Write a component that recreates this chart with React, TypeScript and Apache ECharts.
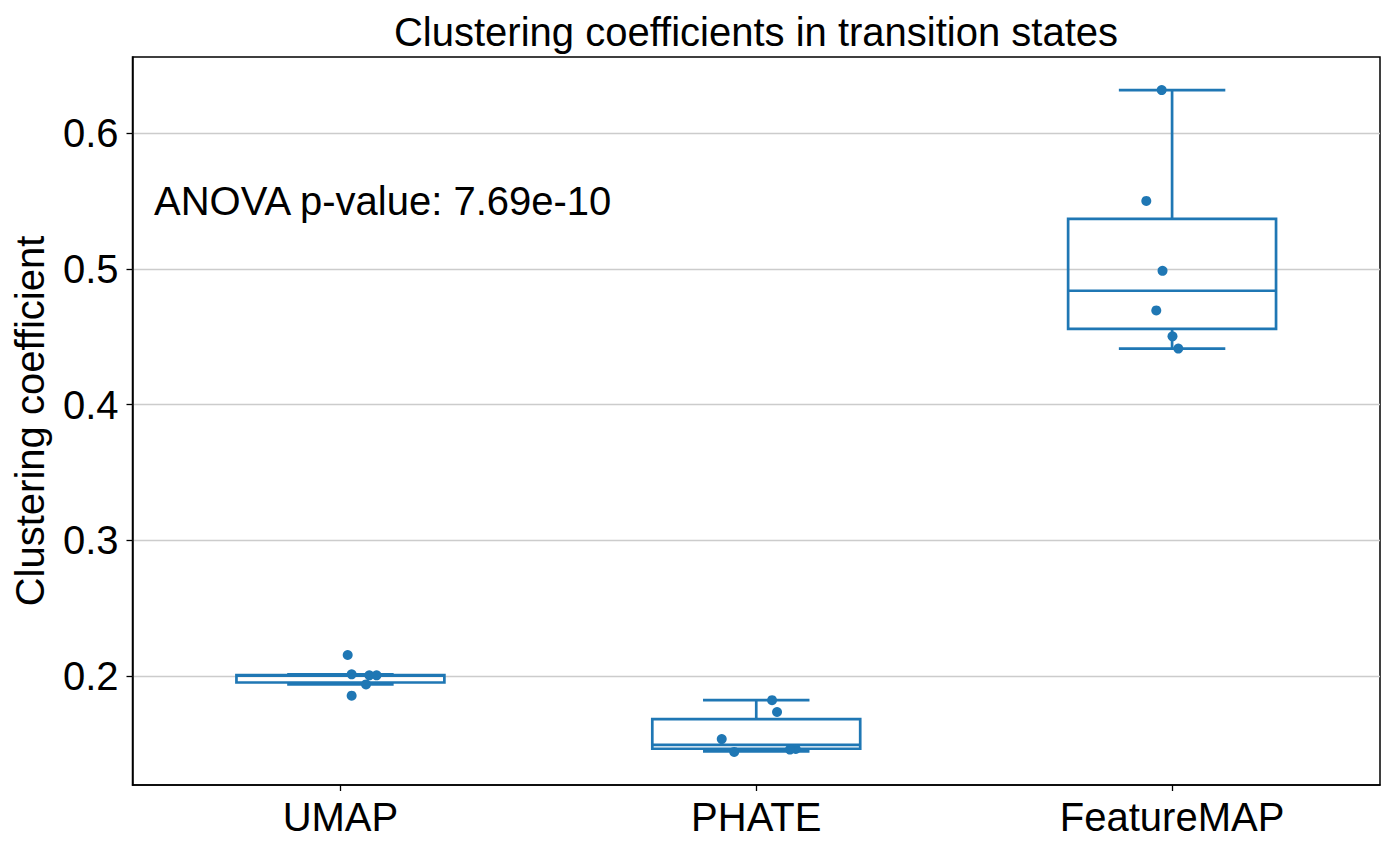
import React, { useEffect, useRef } from "react";
import * as echarts from "echarts";

const categories = ["UMAP", "PHATE", "FeatureMAP"];

// box statistics per category: [lower whisker, q1, median, q3, upper whisker]
const boxStats = [
  [0.1938, 0.1952, 0.2003, 0.2006, 0.2012],
  [0.1445, 0.1464, 0.1492, 0.1683, 0.1822],
  [0.4412, 0.4557, 0.4838, 0.5368, 0.6316],
];

// strip points per category
const umapPoints = [0.2155, 0.2012, 0.2005, 0.2005, 0.1938, 0.1855];
const phatePoints = [0.1822, 0.1735, 0.1535, 0.1441, 0.1462, 0.1458];
const featurePoints = [0.6316, 0.55, 0.4985, 0.4693, 0.4502, 0.4412];

// horizontal jitter of each point (fraction of category band)
const umapJitter = [0.0175, 0.027, 0.0695, 0.087, 0.0616, 0.027];
const phateJitter = [0.038, 0.05, -0.083, -0.053, 0.095, 0.081];
const featureJitter = [-0.025, -0.062, -0.023, -0.038, 0.001, 0.015];

const yTicks = [0.2, 0.3, 0.4, 0.5, 0.6];
const yMin = 0.1197;
const yMax = 0.656;

const titleText = "Clustering coefficients in transition states";
const annotation = "ANOVA p-value: 7.69e-10";
const yName = "Clustering coefficient";

const BLUE = "#1f77b4";
const FONT = "'Liberation Sans', Arial, sans-serif";
const FS = 40;

export default function App() {
  const ref = useRef<HTMLDivElement>(null);
  useEffect(() => {
    if (!ref.current) return;
    const chart = echarts.init(ref.current, undefined, { renderer: "svg" });
    const pointSets = [umapPoints, phatePoints, featurePoints];
    const jitterSets = [umapJitter, phateJitter, featureJitter];
    const scatterData: number[][] = [];
    pointSets.forEach((pts, i) => {
      pts.forEach((v, j) => scatterData.push([i + jitterSets[i][j], v]));
    });
    const boxData = boxStats.map((s, i) => [i, ...s]);

    chart.setOption({
      animation: false,
      backgroundColor: "#ffffff",
      textStyle: { fontFamily: FONT },
      grid: {
        left: 132.5,
        right: 16,
        top: 57,
        bottom: 69,
        show: true,
        borderColor: "#000",
        borderWidth: 1.5,
        backgroundColor: "transparent",
      },
      xAxis: [
        {
          type: "category",
          data: categories,
          boundaryGap: true,
          axisLine: { show: true, onZero: false, lineStyle: { color: "#000", width: 1.5 } },
          axisTick: { show: true, alignWithLabel: true, length: 6, lineStyle: { color: "#000", width: 1.3 } },
          axisLabel: { color: "#000", fontSize: FS, fontFamily: FONT, margin: 12 },
          splitLine: { show: false },
        },
        {
          type: "value",
          min: -0.5,
          max: 2.5,
          show: false,
          axisLine: { show: false, onZero: false },
          splitLine: { show: false },
        },
      ],
      yAxis: {
        type: "value",
        min: yMin,
        max: yMax,
        name: yName,
        nameLocation: "middle",
        nameRotate: 90,
        nameGap: 83,
        nameTextStyle: { color: "#000", fontSize: FS, fontFamily: FONT },
        axisLine: { show: true, onZero: false, lineStyle: { color: "#000", width: 1.5 } },
        axisTick: { show: true, length: 6, customValues: yTicks, lineStyle: { color: "#000", width: 1.3 } },
        axisLabel: {
          color: "#000",
          fontSize: FS,
          fontFamily: FONT,
          margin: 14,
          customValues: yTicks,
          formatter: (v: number) => v.toFixed(1),
        },
        splitLine: { show: true, lineStyle: { color: "#cccccc", width: 1.3 } },
      },
      graphic: [
        {
          type: "text",
          x: 756,
          y: 32,
          style: {
            text: titleText,
            fontSize: FS,
            fontFamily: FONT,
            fill: "#000",
            align: "center",
            verticalAlign: "middle",
          },
        },
        {
          type: "text",
          x: 154,
          y: 201,
          z: 10,
          style: {
            text: annotation,
            fontSize: FS,
            fontFamily: FONT,
            fill: "#000",
            align: "left",
            verticalAlign: "middle",
          },
        },
      ],
      series: [
        {
          type: "custom",
          xAxisIndex: 0,
          yAxisIndex: 0,
          data: boxData,
          encode: { x: 0, y: [1, 2, 3, 4, 5] },
          z: 2,
          renderItem: (params: any, api: any) => {
            const idx = api.value(0);
            const lo = api.coord([idx, api.value(1)]);
            const q1 = api.coord([idx, api.value(2)]);
            const med = api.coord([idx, api.value(3)]);
            const q3 = api.coord([idx, api.value(4)]);
            const hi = api.coord([idx, api.value(5)]);
            const band = api.size([1, 0])[0];
            const hw = band * 0.25;
            const cw = band * 0.128;
            const x = lo[0];
            const style = { stroke: BLUE, lineWidth: 2.7, fill: "none" };
            return {
              type: "group",
              children: [
                { type: "line", shape: { x1: x, y1: q3[1], x2: x, y2: hi[1] }, style },
                { type: "line", shape: { x1: x, y1: q1[1], x2: x, y2: lo[1] }, style },
                { type: "line", shape: { x1: x - cw, y1: hi[1], x2: x + cw, y2: hi[1] }, style },
                { type: "line", shape: { x1: x - cw, y1: lo[1], x2: x + cw, y2: lo[1] }, style },
                {
                  type: "rect",
                  shape: { x: x - hw, y: q3[1], width: 2 * hw, height: q1[1] - q3[1] },
                  style,
                },
                { type: "line", shape: { x1: x - hw, y1: med[1], x2: x + hw, y2: med[1] }, style },
              ],
            };
          },
        },
        {
          type: "scatter",
          xAxisIndex: 1,
          yAxisIndex: 0,
          data: scatterData,
          symbol: "circle",
          symbolSize: 10,
          itemStyle: { color: BLUE, opacity: 1 },
          z: 5,
        },
      ],
    });
    return () => chart.dispose();
  }, []);
  return (
    <div
      ref={ref}
      style={{ position: "absolute", left: 0, top: 0, width: 1396, height: 854 }}
    />
  );
}
